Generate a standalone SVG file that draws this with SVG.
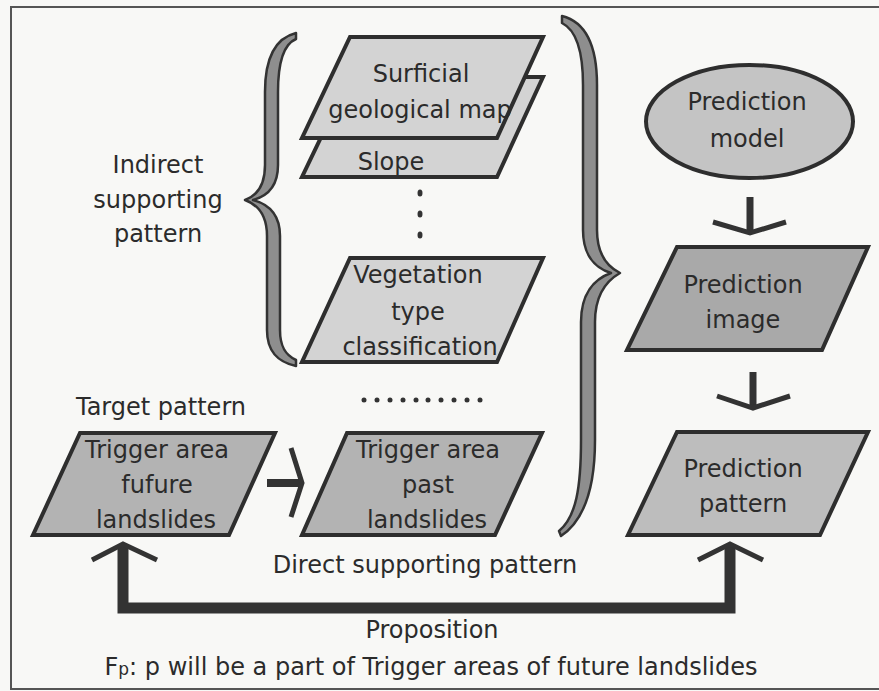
<svg xmlns="http://www.w3.org/2000/svg" width="879" height="691" viewBox="0 0 879 691">
<style>
text{font-family:"DejaVu Sans","Liberation Sans",sans-serif;font-size:24px;fill:#2b2b2b;text-anchor:middle}
.box{stroke:#2e2e2e;stroke-width:4;stroke-linejoin:miter}
.light{fill:#d3d3d3}
.mid{fill:#b3b3b3}
.dark{fill:#a9a9a9}
.pat{fill:#bdbdbd}
.brace{fill:#8e8e8e;stroke:#333;stroke-width:2.5;stroke-linejoin:round}
.chev{fill:none;stroke:#333;stroke-width:5;stroke-linejoin:miter;stroke-linecap:butt}
.dot{fill:#333}
</style>
<rect x="0" y="0" width="879" height="691" fill="#f8f8f6"/>
<path d="M879,7 H11 V689 H879" fill="none" stroke="#555" stroke-width="2"/>

<g id="braces">
<path class="brace" d="M296,33 C276,38 265,58 265,92 L265,165 C265,186 256,196 245,200 C256,204 267,214 267,236 L267,330 C267,352 278,362 296,366 L296,360 C285,355 280,346 280,330 L280,236 C280,214 268,204 253,200 C268,196 278,186 278,165 L278,92 C278,62 284,44 296,39 Z"/>
<path class="brace" d="M562,16 C586,22 597,46 597,85 L597,230 C597,252 606,266 620,273 C606,281 595,296 595,322 L595,440 C595,492 582,522 561,536 L559,531 C576,517 581,488 581,440 L581,322 C581,294 594,279 611,273 C594,268 583,254 583,230 L583,85 C583,52 576,30 562,23 Z"/>
</g>

<g id="indirect-label">
<text x="158" y="173">Indirect</text>
<text x="158" y="208">supporting</text>
<text x="158" y="242">pattern</text>
</g>

<g id="slope">
<polygon class="box light" points="350,77 543,77 497,177 302,177"/>
<text x="391" y="170">Slope</text>
</g>
<g id="surficial">
<polygon class="box light" points="350,37 543,37 497,138 302,138"/>
<text x="421" y="82">Surficial</text>
<text x="420" y="118">geological map</text>
</g>

<g id="vdots">
<ellipse class="dot" cx="420" cy="193" rx="2.5" ry="3.5"/>
<ellipse class="dot" cx="420" cy="214" rx="2.5" ry="3.5"/>
<ellipse class="dot" cx="420" cy="235" rx="2.5" ry="3.5"/>
</g>

<g id="vegetation">
<polygon class="box light" points="350,258 543,258 497,362 302,362"/>
<text x="418" y="283">Vegetation</text>
<text x="418" y="320">type</text>
<text x="420" y="355">classification</text>
</g>

<g id="hdots">
<circle class="dot" cx="364" cy="400" r="2.5"/>
<circle class="dot" cx="377" cy="400" r="2.5"/>
<circle class="dot" cx="390" cy="400" r="2.5"/>
<circle class="dot" cx="403" cy="400" r="2.5"/>
<circle class="dot" cx="416" cy="400" r="2.5"/>
<circle class="dot" cx="428" cy="400" r="2.5"/>
<circle class="dot" cx="441" cy="400" r="2.5"/>
<circle class="dot" cx="454" cy="400" r="2.5"/>
<circle class="dot" cx="467" cy="400" r="2.5"/>
<circle class="dot" cx="480" cy="400" r="2.5"/>
</g>

<g id="target-pattern">
<text x="161" y="415">Target pattern</text>
</g>

<g id="trigger-future">
<polygon class="box mid" points="80,433 275,433 229,535 33,535"/>
<text x="157" y="458">Trigger area</text>
<text x="157" y="493">fufure</text>
<text x="156" y="528">landslides</text>
</g>

<g id="trigger-past">
<polygon class="box mid" points="347,433 542,433 495,535 302,535"/>
<text x="428" y="458">Trigger area</text>
<text x="428" y="493">past</text>
<text x="427" y="528">landslides</text>
</g>

<g id="prediction-model">
<ellipse class="box" cx="749.5" cy="121.5" rx="103.5" ry="56.5" fill="#c4c4c4"/>
<text x="747" y="110">Prediction</text>
<text x="747" y="147">model</text>
</g>

<g id="prediction-image">
<polygon class="box dark" points="677,247 868,247 822,350 627,350"/>
<text x="743" y="293">Prediction</text>
<text x="743" y="328">image</text>
</g>

<g id="prediction-pattern">
<polygon class="box pat" points="677,432 868,432 820,535 628,535"/>
<text x="743" y="477">Prediction</text>
<text x="743" y="512">pattern</text>
</g>

<g id="connectors">
<line x1="267" y1="483" x2="300" y2="483" stroke="#333" stroke-width="8"/>
<polyline class="chev" points="291,448 302,483 291,517"/>
<line x1="750" y1="197" x2="750" y2="231" stroke="#333" stroke-width="7"/>
<polyline class="chev" points="713,222 750,233 786,222"/>
<line x1="753" y1="372" x2="753" y2="406" stroke="#333" stroke-width="7"/>
<polyline class="chev" points="717,396 753,408 790,396"/>
<path d="M123,547 L123,608 L730,608 L730,547" fill="none" stroke="#333" stroke-width="11" stroke-linejoin="miter"/>
<polyline class="chev" points="92,560 123,544 157,560"/>
<polyline class="chev" points="698,560 730,544 763,560"/>
</g>

<g id="labels">
<text x="425" y="573">Direct supporting pattern</text>
<text x="432" y="638">Proposition</text>
<text x="431" y="675">F<tspan font-size="17">p</tspan>: p will be a part of Trigger areas of future landslides</text>
</g>
</svg>
